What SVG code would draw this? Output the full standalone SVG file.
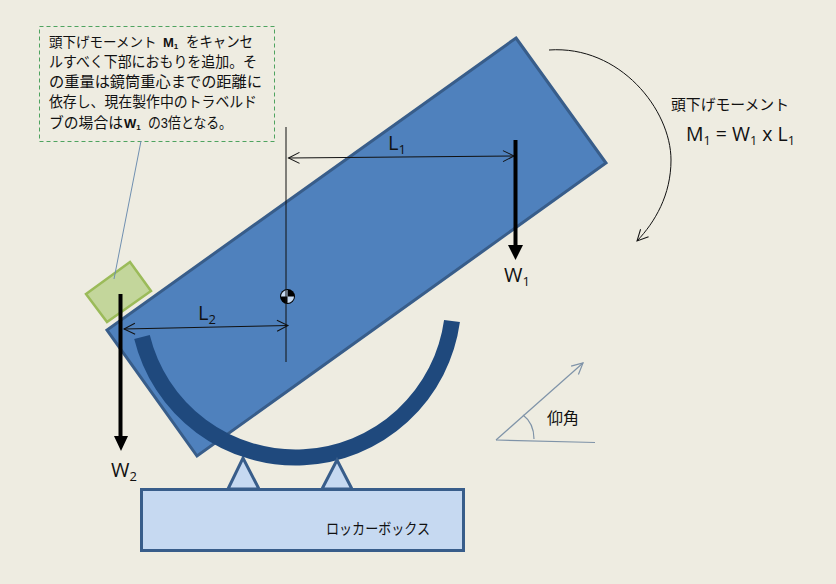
<svg xmlns="http://www.w3.org/2000/svg" width="836" height="584" viewBox="0 0 836 584">
<style>
text{font-family:"Liberation Sans","Noto Sans CJK JP",sans-serif;fill:#111}
.j{font-size:15px}
.e{font-family:"Open Sans","Noto Sans",sans-serif;font-size:20px}
.thin{fill:none;stroke:#111;stroke-width:1}
.force{fill:none;stroke:#000;stroke-width:4}
.sup{fill:#c6d9f1;stroke:#385d8a;stroke-width:3}
.el{fill:none;stroke:#7f93a8;stroke-width:1.2}
</style>
<defs>
<marker id="open" markerUnits="userSpaceOnUse" markerWidth="14" markerHeight="14" refX="12" refY="7" orient="auto-start-reverse"><path d="M1,1.500L12,7L1,12.500" fill="none" stroke="#111" stroke-width="1"/></marker>
<marker id="openb" markerUnits="userSpaceOnUse" markerWidth="14" markerHeight="14" refX="12" refY="7" orient="auto"><path d="M1,1.500L12,7L1,12.500" fill="none" stroke="#7f93a8" stroke-width="1.2"/></marker>
</defs>
<rect width="836" height="584" fill="#eeece1"/>
<g id="telescope"><polygon points="516,38 606,163 197,456 107,330" fill="#4f81bd" stroke="#385d8a" stroke-width="3"/></g>
<g id="counterweight"><polygon points="86,294 130,262 151,291 107,322" fill="#c3d69b" stroke="#9bbb59" stroke-width="2.500"/></g>
<g id="support-left"><polygon points="228,489 243,458 259,489" class="sup"/></g>
<g id="cradle"><path d="M142,337A158,158 0 0 0 452,321" fill="none" stroke="#1f497d" stroke-width="16"/></g>
<g id="support-right"><polygon points="322,489 337,460 352,489" class="sup"/></g>
<g id="locker-box"><rect x="141.500" y="489.500" width="322" height="61" fill="#c6d9f1" stroke="#385d8a" stroke-width="3"/><text x="326" y="534" class="j" textLength="104" lengthAdjust="spacingAndGlyphs">ロッカーボックス</text></g>
<g id="center-of-gravity"><circle cx="287.500" cy="296.500" r="7.500" fill="#000"/><path d="M287.500,296.500V290A6.500,6.500 0 0 0 281,296.500ZM287.500,296.500V303A6.500,6.500 0 0 0 294,296.500Z" fill="#c6d9f1"/></g>
<g id="note"><rect x="39.500" y="26.500" width="235" height="115" fill="#eeece1" stroke="#4ea35f" stroke-width="1" stroke-dasharray="4 3"/>
<text x="49" y="47" font-size="13.500">頭下げモーメント</text>
<text x="163" y="47" font-size="13" font-weight="bold">M<tspan font-size="8" dy="2">1</tspan></text>
<text class="j" x="186" y="47" textLength="67" lengthAdjust="spacingAndGlyphs">をキャンセ</text>
<text class="j" x="49" y="67" textLength="208" lengthAdjust="spacingAndGlyphs">ルすべく下部におもりを追加。そ</text>
<text class="j" x="49" y="87" textLength="213" lengthAdjust="spacingAndGlyphs">の重量は鏡筒重心までの距離に</text>
<text class="j" x="49" y="107" textLength="208" lengthAdjust="spacingAndGlyphs">依存し、現在製作中のトラベルド</text>
<text class="j" x="49" y="128" textLength="74" lengthAdjust="spacingAndGlyphs">ブの場合は</text>
<text x="124" y="128" font-size="13" font-weight="bold">W<tspan font-size="8" dy="2">1</tspan></text>
<text class="j" x="148" y="128" textLength="84" lengthAdjust="spacingAndGlyphs">の3倍となる。</text></g>
<g id="connectors">
<path d="M141,141L114,279" fill="none" stroke="#6f8fb0" stroke-width="1"/>
<path d="M286,127V362" class="thin"/>
<path d="M288.500,158L514,156" class="thin" marker-start="url(#open)" marker-end="url(#open)"/>
<path d="M124,329L288,325.500" class="thin" marker-start="url(#open)" marker-end="url(#open)"/>
<path d="M515.500,140V246" class="force"/><polygon points="508,245 523,245 515.500,260" fill="#000"/>
<path d="M120.500,294V437" class="force"/><polygon points="114,436 128,436 121,451" fill="#000"/>
<path d="M549,50C620,45 671,110 671,160C671,195 655,222 637,241" class="thin" marker-end="url(#open)"/>
<path d="M496,440L583,363" class="el" marker-end="url(#openb)"/>
<path d="M496,440L595,442.500" class="el"/>
<path d="M523,415C531,421 534,430 534,439" class="el"/>
</g>
<g id="labels">
<text class="e" x="388" y="150">L<tspan font-size="13" dy="4">1</tspan></text>
<text class="e" x="198" y="320">L<tspan font-size="13" dy="4">2</tspan></text>
<text class="e" x="504" y="282">W<tspan font-size="13" dy="4">1</tspan></text>
<text class="e" x="111" y="477">W<tspan font-size="13" dy="4">2</tspan></text>
<text class="j" x="671" y="110" textLength="118" lengthAdjust="spacingAndGlyphs">頭下げモーメント</text>
<text class="e" x="686" y="141" textLength="109" lengthAdjust="spacingAndGlyphs">M<tspan font-size="13" dy="4">1</tspan><tspan dy="-4"> = W</tspan><tspan font-size="13" dy="4">1</tspan><tspan dy="-4"> x L</tspan><tspan font-size="13" dy="4">1</tspan></text>
<text x="547" y="424" font-size="16">仰角</text>
</g>
</svg>
